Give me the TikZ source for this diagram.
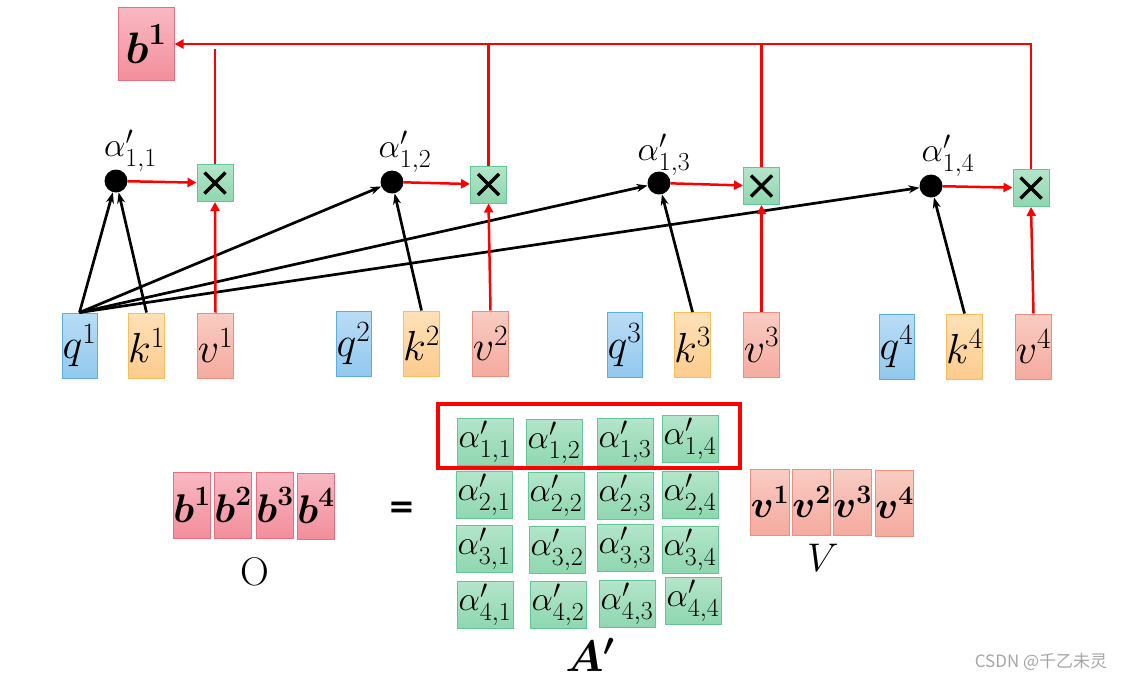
\RequirePackage{fix-cm}
\documentclass[tikz,border=0pt]{standalone}
\usepackage{amsmath}
\usepackage{amssymb}
\usepackage{fontspec}
\newfontfamily\cjk{Noto Sans CJK SC}
\newfontfamily\eqfont{DejaVu Sans}
\usetikzlibrary{calc, positioning}
\usetikzlibrary{arrows.meta}
\DeclareMathSizes{34}{34}{26}{20}

\definecolor{qtop}{HTML}{B9DDF5}
\definecolor{qbot}{HTML}{92C8EE}
\definecolor{qline}{HTML}{5DADE2}
\definecolor{ktop}{HTML}{FEE1B8}
\definecolor{kbot}{HTML}{FDCB8E}
\definecolor{kline}{HTML}{F8BE5C}
\definecolor{vtop}{HTML}{F9CCC2}
\definecolor{vbot}{HTML}{F5AA9F}
\definecolor{vline}{HTML}{EE8E7E}
\definecolor{btop}{HTML}{F8B9C2}
\definecolor{bbot}{HTML}{F38E9C}
\definecolor{bline}{HTML}{E86E80}
\definecolor{gtop}{HTML}{B3E5CA}
\definecolor{gbot}{HTML}{8ED7AF}
\definecolor{gline}{HTML}{62C795}

\tikzset{
  vecbox/.style={draw, line width=1pt, minimum width=35pt, minimum height=65pt,
    inner sep=0pt, font=\fontsize{42}{42}\selectfont},
  qbox/.style={vecbox, draw=qline, top color=qtop, bottom color=qbot},
  kbox/.style={vecbox, draw=kline, top color=ktop, bottom color=kbot},
  vbox/.style={vecbox, draw=vline, top color=vtop, bottom color=vbot},
  outbox/.style={draw=bline, line width=1pt, top color=btop, bottom color=bbot,
    minimum width=36pt, minimum height=66pt, inner sep=0pt, font=\fontsize{40}{40}\selectfont},
  valbox/.style={vbox, minimum width=36pt, minimum height=66pt, font=\fontsize{38}{38}\selectfont},
  cellbox/.style={draw=gline, line width=1pt, top color=gtop, bottom color=gbot,
    minimum width=56pt, minimum height=47pt, inner sep=0pt, font=\fontsize{34}{34}\selectfont},
  mulbox/.style={draw=gline, line width=1pt, top color=gtop, bottom color=gbot,
    minimum width=36pt, minimum height=37pt, inner sep=0pt,
    path picture={
      \draw[black, line width=3.5pt]
        ([shift={(-10.5pt,-10.5pt)}]path picture bounding box.center) --
        ([shift={(10.5pt,10.5pt)}]path picture bounding box.center);
      \draw[black, line width=3.5pt]
        ([shift={(-10.5pt,10.5pt)}]path picture bounding box.center) --
        ([shift={(10.5pt,-10.5pt)}]path picture bounding box.center);
    }},
  dotnode/.style={circle, fill=black, minimum size=23pt, inner sep=0pt},
  alabel/.style={inner sep=0pt, font=\fontsize{34}{34}\selectfont},
  redline/.style={red, line width=2.5pt},
  redarrow/.style={redline, -{Triangle[length=9pt,width=9pt]}},
  blackarrow/.style={black, line width=2.7pt, -{Stealth[length=11pt,width=8pt]}},
}

\begin{document}
\begin{tikzpicture}[x=1pt, y=-1pt]
\useasboundingbox (0,0) rectangle (1132,681);

% output b^1
\node[outbox, minimum width=56pt, minimum height=73pt, font=\fontsize{44}{44}\selectfont]
  (b1top) at (146,44) {$\boldsymbol{b}^{\boldsymbol{1}}$};

% q, k, v
\node[qbox] (q1) at (79.5,345.5) {$q^1$};
\node[kbox] (k1) at (146.5,345.5) {$k^1$};
\node[vbox] (v1) at (215.5,345.5) {$v^1$};
\node[qbox] (q2) at (353.5,343.5) {$q^2$};
\node[kbox] (k2) at (421.5,343.5) {$k^2$};
\node[vbox] (v2) at (490.5,343.5) {$v^2$};
\node[qbox] (q3) at (624.5,345) {$q^3$};
\node[kbox] (k3) at (692.5,345) {$k^3$};
\node[vbox] (v3) at (761.5,345) {$v^3$};
\node[qbox] (q4) at (896.5,346.5) {$q^4$};
\node[kbox] (k4) at (964.5,346.5) {$k^4$};
\node[vbox] (v4) at (1033.5,346.5) {$v^4$};

% attention scores
\node[dotnode] (dot1) at (116,181) {};
\node[dotnode] (dot2) at (392,182) {};
\node[dotnode] (dot3) at (659,183) {};
\node[dotnode] (dot4) at (931,186) {};
\node[alabel] at (130.5,151) {$\alpha'_{1,1}$};
\node[alabel] at (405,152) {$\alpha'_{1,2}$};
\node[alabel] at (664,155) {$\alpha'_{1,3}$};
\node[alabel] at (948,156) {$\alpha'_{1,4}$};

% products
\node[mulbox] (mul1) at (215,183) {};
\node[mulbox] (mul2) at (488.5,184.5) {};
\node[mulbox] (mul3) at (761.5,186) {};
\node[mulbox] (mul4) at (1031,188) {};

\coordinate (corner) at (1031,44);
\coordinate (top1) at (215,49);

\draw[blackarrow] (q1.north) -- (dot1);
\draw[blackarrow] (q1.north) -- (dot2);
\draw[blackarrow] (q1.north) -- (dot3);
\draw[blackarrow] (q1.north) -- (dot4);
\draw[blackarrow] (k1.north) -- (dot1);
\draw[blackarrow] (k2.north) -- (dot2);
\draw[blackarrow] (k3.north) -- (dot3);
\draw[blackarrow] (k4.north) -- (dot4);

\draw[redarrow] (dot1) -- (mul1);
\draw[redarrow] (dot2) -- (mul2);
\draw[redarrow] (dot3) -- (mul3);
\draw[redarrow] (dot4) -- (mul4);
\draw[redarrow] (v1.north) -- (mul1.south);
\draw[redarrow] (v2.north) -- (mul2.south);
\draw[redarrow] (v3.north) -- (mul3.south);
\draw[redarrow] (v4.north) -- (mul4.south);

\draw[redline] (mul1.north) -- (top1);
\draw[redline] (mul2.north) -- (mul2.north |- corner);
\draw[redline] (mul3.north) -- (mul3.north |- corner);
\draw[redarrow] (mul4.north) -- (corner) -- (b1top.east);

% O = A' V
\node[outbox] (ob1) at (192,505) {$\boldsymbol{b}^{\boldsymbol{1}}$};
\node[outbox] (ob2) at (233,505) {$\boldsymbol{b}^{\boldsymbol{2}}$};
\node[outbox] (ob3) at (275,505) {$\boldsymbol{b}^{\boldsymbol{3}}$};
\node[outbox] (ob4) at (316,506) {$\boldsymbol{b}^{\boldsymbol{4}}$};
\node[font=\fontsize{40}{40}\selectfont] (olabel) at (255,572) {O};
\node[font=\eqfont\bfseries\fontsize{32}{32}\selectfont] (eq) at (402,510) {=};

\node[cellbox] (a11) at (485,442) {$\alpha'_{1,1}$};
\node[cellbox] (a12) at (554,443) {$\alpha'_{1,2}$};
\node[cellbox] (a13) at (625,442) {$\alpha'_{1,3}$};
\node[cellbox] (a14) at (690,439) {$\alpha'_{1,4}$};
\node[cellbox] (a21) at (484,495) {$\alpha'_{2,1}$};
\node[cellbox] (a22) at (556,496) {$\alpha'_{2,2}$};
\node[cellbox] (a23) at (625,496) {$\alpha'_{2,3}$};
\node[cellbox] (a24) at (690,495) {$\alpha'_{2,4}$};
\node[cellbox] (a31) at (484,549) {$\alpha'_{3,1}$};
\node[cellbox] (a32) at (557,550) {$\alpha'_{3,2}$};
\node[cellbox] (a33) at (625,548) {$\alpha'_{3,3}$};
\node[cellbox] (a34) at (690,550) {$\alpha'_{3,4}$};
\node[cellbox] (a41) at (485,605) {$\alpha'_{4,1}$};
\node[cellbox] (a42) at (558,605) {$\alpha'_{4,2}$};
\node[cellbox] (a43) at (627,604) {$\alpha'_{4,3}$};
\node[cellbox] (a44) at (693,601) {$\alpha'_{4,4}$};
\draw[red, line width=4.5pt] (438,404) rectangle (740,468);
\node[font=\fontsize{44}{44}\selectfont] (alabel) at (590,655) {$\boldsymbol{A'}$};

\node[valbox] (ov1) at (770,502) {$\boldsymbol{v}^{\boldsymbol{1}}$};
\node[valbox] (ov2) at (811.5,502) {$\boldsymbol{v}^{\boldsymbol{2}}$};
\node[valbox] (ov3) at (852.5,502) {$\boldsymbol{v}^{\boldsymbol{3}}$};
\node[valbox] (ov4) at (894.5,503) {$\boldsymbol{v}^{\boldsymbol{4}}$};
\node[font=\fontsize{40}{40}\selectfont] (vlabel) at (823,558) {$V$};

\node[font=\cjk\fontsize{17}{17}\selectfont, text=black!35] (mark) at (1041,662) {CSDN @千乙未灵};
\end{tikzpicture}
\end{document}
